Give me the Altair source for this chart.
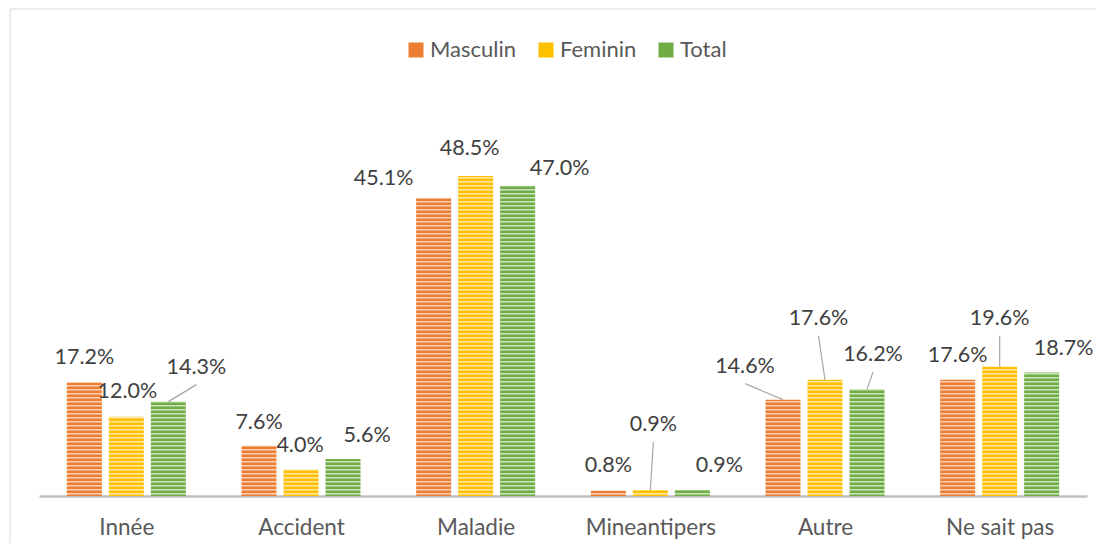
import json
import altair as alt
import pandas as pd

categories = ["Innée", "Accident", "Maladie", "Mineantipers", "Autre", "Ne sait pas"]
series = ["Masculin", "Feminin", "Total"]
masculin = [17.2, 7.6, 45.1, 0.8, 14.6, 17.6]
feminin = [12.0, 4.0, 48.5, 0.9, 17.6, 19.6]
total = [14.3, 5.6, 47.0, 0.9, 16.2, 18.7]
colors = ["#ED7D31", "#FFC000", "#70AD47"]

# label nudges in pixels (dx, dy) relative to the bar top, and leader-line flags
nudge_masc = [(0, -24), (0, -23), (-50, -19), (0, -25), (-38, -33), (0, -24)]
nudge_fem = [(1, -25), (-1, -24), (-6, -27), (3, -65), (-6.5, -61), (0, -48)]
nudge_tot = [(28, -34), (24, -23), (42, -17), (27, -24), (6, -34), (22, -24)]
leader_masc = [False, False, False, False, True, False]
leader_fem = [False, False, False, True, True, True]
leader_tot = [True, False, False, False, True, False]

W, H = 1048, 363
YMAX = 55
PX_X = W / len(categories)      # pixels per category unit
PX_Y = H / YMAX                 # pixels per percent
BAR_STEP = 42 / PX_X
BAR_HALF = 17.5 / PX_X

rows = []
for s_i, (name, vals, nudges, leads) in enumerate(zip(
        series, [masculin, feminin, total], [nudge_masc, nudge_fem, nudge_tot],
        [leader_masc, leader_fem, leader_tot])):
    for c_i, cat in enumerate(categories):
        pos = c_i + (s_i - 1) * BAR_STEP
        v = vals[c_i]
        dx, dy = nudges[c_i]
        lx = pos + dx / PX_X
        ly = v - dy / PX_Y
        rows.append(dict(series=name, cat=cat, v=v, x1=pos - BAR_HALF, x2=pos + BAR_HALF,
                         pos=pos, lx=lx, ly=ly, lab=f"{v:.1f}%",
                         lead=leads[c_i], ly0=ly - 17 / PX_Y))
df = pd.DataFrame(rows)

xs = alt.Scale(domain=[-0.5, len(categories) - 0.5], nice=False, zero=False)
ys = alt.Scale(domain=[0, YMAX], nice=False)
FONT = "Lato"

label_expr = json.dumps(categories, ensure_ascii=False) + "[datum.value]"

frame = alt.Chart(alt.Data(values=[{}])).mark_rect(
    fill="transparent", stroke="#d9d9d9", strokeWidth=1
).encode(x=alt.value(-29), x2=alt.value(1100), y=alt.value(-124), y2=alt.value(560))

bars = alt.Chart(df).mark_bar().encode(
    x=alt.X("x1:Q", scale=xs, axis=alt.Axis(
        values=list(range(len(categories))), labelExpr=label_expr, title=None,
        grid=False, ticks=False, tickSize=0, domainColor="#bfbfbf", domainWidth=2.5,
        labelFont=FONT, labelFontSize=22.5, labelColor="#595959", labelPadding=38,
        labelBaseline="alphabetic", labelFlush=False, labelOverlap=False)),
    x2="x2:Q",
    y=alt.Y("v:Q", scale=ys, axis=None),
    y2=alt.Y2(datum=0),
    color=alt.Color("series:N", scale=alt.Scale(domain=series, range=colors),
                    sort=series,
                    legend=alt.Legend(orient="none", direction="horizontal", legendX=366,
                                      legendY=-94, title=None, symbolType="square",
                                      symbolSize=225, symbolStrokeWidth=0,
                                      labelFont=FONT, labelFontSize=22, labelColor="#595959",
                                      labelOffset=3, columnPadding=18, padding=0,
                                      gridAlign="none")),
)

stripes = alt.Chart(alt.sequence(0.35, 50, 4 / PX_Y, as_="s")).mark_rule(
    color="white", opacity=0.65, strokeWidth=1.6
).encode(y=alt.Y("s:Q", scale=ys, axis=None), x=alt.value(0), x2=alt.value(W))

leaders = alt.Chart(df).transform_filter("datum.lead").mark_rule(
    color="#a6a6a6", strokeWidth=1.2
).encode(
    x=alt.X("lx:Q", scale=xs), x2="pos:Q",
    y=alt.Y("ly0:Q", scale=ys, axis=None), y2="v:Q",
)

labels = alt.Chart(df).mark_text(
    font=FONT, fontSize=21.5, color="#404040", align="center", baseline="middle"
).encode(
    x=alt.X("lx:Q", scale=xs), y=alt.Y("ly:Q", scale=ys, axis=None), text="lab:N"
)

chart = alt.layer(frame, bars, stripes, leaders, labels).properties(
    width=W, height=H,
    padding={"left": 31, "top": 125, "right": 9, "bottom": 47},
    autosize=alt.AutoSizeParams(type="none"),
).configure_view(stroke=None)

chart.save("out.html", embed_options={"renderer": "svg", "actions": False})
